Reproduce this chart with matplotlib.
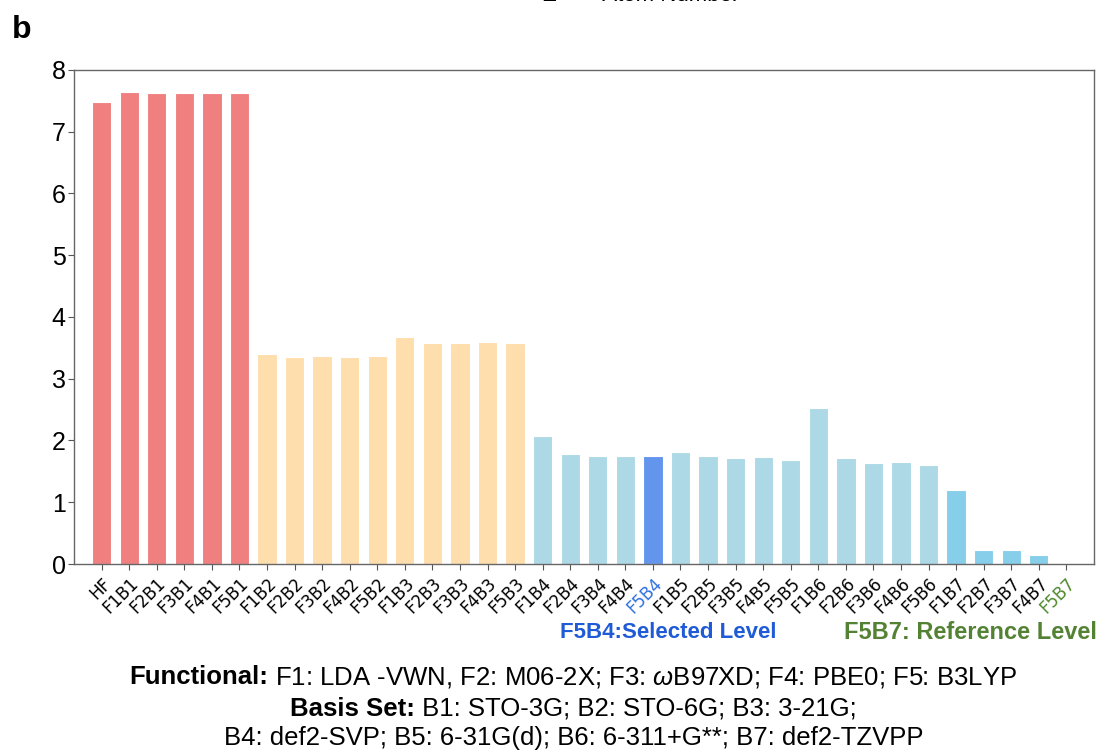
import numpy as np
import matplotlib
matplotlib.use("Agg")
import matplotlib.pyplot as plt

# bar labels and values
labels = ["HF",
          "F1B1", "F2B1", "F3B1", "F4B1", "F5B1",
          "F1B2", "F2B2", "F3B2", "F4B2", "F5B2",
          "F1B3", "F2B3", "F3B3", "F4B3", "F5B3",
          "F1B4", "F2B4", "F3B4", "F4B4", "F5B4",
          "F1B5", "F2B5", "F3B5", "F4B5", "F5B5",
          "F1B6", "F2B6", "F3B6", "F4B6", "F5B6",
          "F1B7", "F2B7", "F3B7", "F4B7", "F5B7"]
values = [7.48,
          7.64, 7.62, 7.62, 7.62, 7.62,
          3.40, 3.35, 3.36, 3.35, 3.36,
          3.67, 3.58, 3.58, 3.60, 3.58,
          2.08, 1.78, 1.75, 1.75, 1.75,
          1.82, 1.75, 1.72, 1.74, 1.69,
          2.53, 1.71, 1.64, 1.65, 1.60,
          1.20, 0.23, 0.22, 0.15, 0.0]

# colour per basis set group
group_colors = {"HF": "#F08080", "B1": "#F08080", "B2": "#FFDEAD", "B3": "#FFDEAD",
                "B4": "#ADD8E6", "B5": "#ADD8E6", "B6": "#ADD8E6", "B7": "#87CEEB"}
selected = "F5B4"
reference = "F5B7"

colors = []
for lab in labels:
    if lab == selected:
        colors.append("#6495ED")
    elif lab == "HF":
        colors.append(group_colors["HF"])
    else:
        colors.append(group_colors[lab[2:]])

plt.rcParams["mathtext.fontset"] = "custom"
plt.rcParams["mathtext.rm"] = "Liberation Sans"
plt.rcParams["mathtext.it"] = "Liberation Sans:italic"

fig = plt.figure(figsize=(11.05, 7.51), dpi=100)
ax = fig.add_axes([0.067, 0.249, 0.923, 0.658])

x = np.arange(len(labels))
ax.bar(x, values, width=0.7, color=colors, edgecolor="white", linewidth=0.8)

ax.set_xlim(-1, len(labels))
ax.set_ylim(0, 8)
ax.set_yticks(range(0, 9))
ax.tick_params(axis="y", labelsize=18, length=4, pad=2, color="#555555")
for t in ax.get_yticklabels():
    t.set_fontfamily("Liberation Sans")

ax.set_xticks(x)
ax.set_xticklabels(labels, rotation=45, ha="right", rotation_mode="anchor", fontsize=12)
ax.tick_params(axis="x", length=4, color="#555555")
for t in ax.get_xticklabels():
    if t.get_text() == selected:
        t.set_color("#2F6FE0")
    elif t.get_text() == reference:
        t.set_color("#4E8A2E")

for s in ax.spines.values():
    s.set_color("#666666")
    s.set_linewidth(1.0)

# panel letter and annotations
fig.text(0.011, 0.96, "b", fontsize=23, fontweight="bold", family="Liberation Sans", va="center")
fig.text(0.58, 1.006, "Z  \u2014  Atom Number", fontsize=16, family="Liberation Sans", ha="center", va="center")

fig.text(0.605, 0.158, "F5B4:Selected Level", fontsize=16, fontweight="bold",
         family="Liberation Sans", color="#1F5BD6", ha="center", va="center")
fig.text(0.878, 0.158, "F5B7: Reference Level", fontsize=17, fontweight="bold",
         family="Liberation Sans", color="#548235", ha="center", va="center")

# bottom legend text: bold heading + regular rest, centred as one line
lines = [("Functional:", " F1: LDA -VWN, F2: M06-2X; F3: $\\omega$B97XD; F4: PBE0; F5: B3LYP"),
         ("Basis Set:", " B1: STO-3G; B2: STO-6G; B3: 3-21G;"),
         ("", "B4: def2-SVP; B5: 6-31G(d); B6: 6-311+G**; B7: def2-TZVPP")]
ys = [0.098, 0.056, 0.017]
xc = 0.519
renderer = fig.canvas.get_renderer()
for (head, rest), yy in zip(lines, ys):
    th = fig.text(0, yy, head, fontsize=18.5, fontweight="bold", family="Liberation Sans", va="center")
    tr = fig.text(0, yy, rest, fontsize=18.5, family="Liberation Sans", va="center")
    wh = th.get_window_extent(renderer).width / fig.bbox.width if head else 0
    wr = tr.get_window_extent(renderer).width / fig.bbox.width
    x0 = xc - (wh + wr) / 2
    th.set_x(x0)
    tr.set_x(x0 + wh)

fig.savefig("out.png", dpi=100)
